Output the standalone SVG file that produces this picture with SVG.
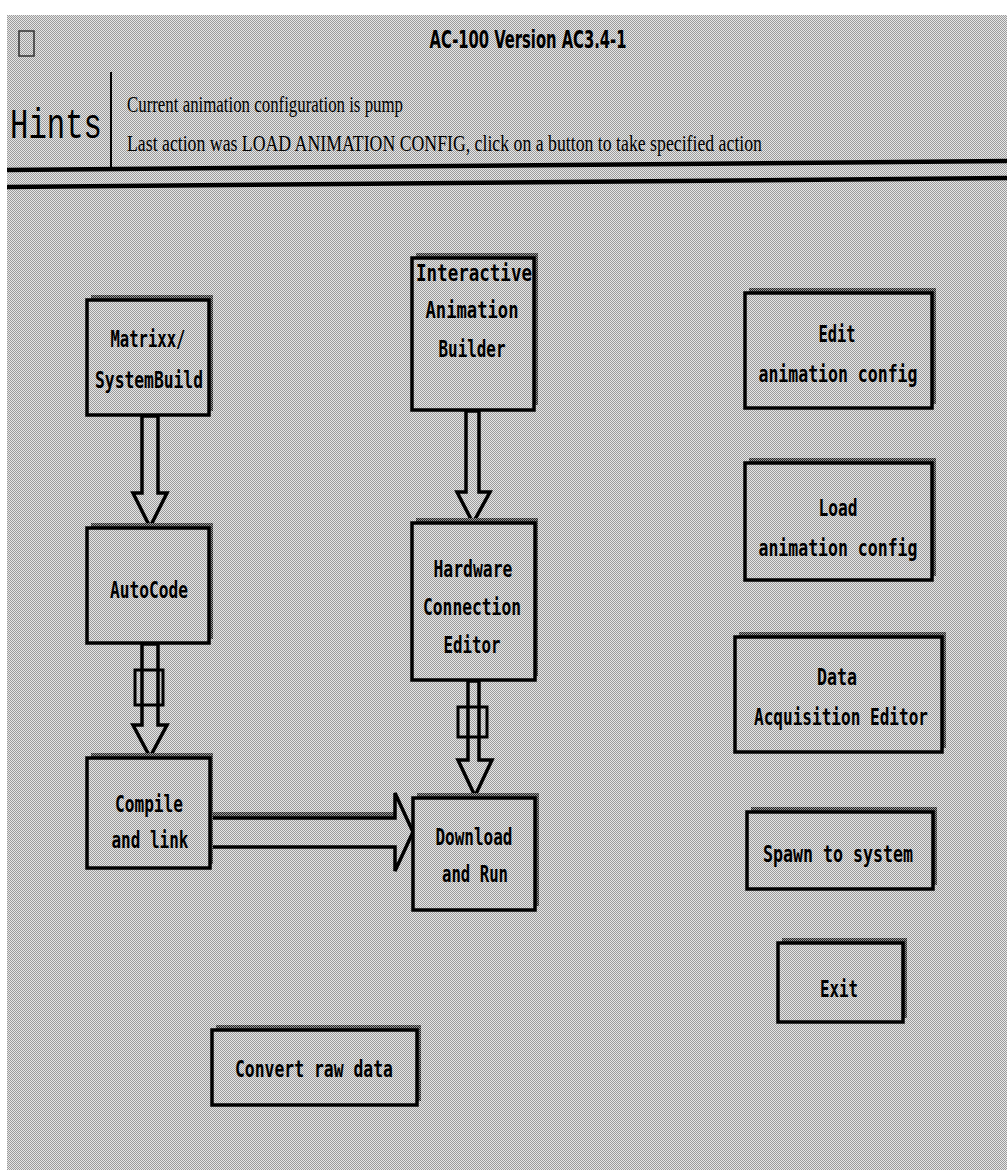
<svg xmlns="http://www.w3.org/2000/svg" width="1007" height="1170" viewBox="0 0 1007 1170">
  <defs>
    <pattern id="bg" patternUnits="userSpaceOnUse" width="2" height="2">
      <rect width="2" height="2" fill="#e6e6e6"/>
      <rect width="1" height="1" fill="#9c9c9c"/>
      <rect x="1" y="1" width="1" height="1" fill="#9c9c9c"/>
    </pattern>
    <pattern id="dk" patternUnits="userSpaceOnUse" width="2" height="2">
      <rect width="2" height="2" fill="#9a9a9a"/>
      <rect width="1" height="1" fill="#222"/>
      <rect x="1" y="1" width="1" height="1" fill="#222"/>
    </pattern>
    <style>
      .box { fill: url(#bg); stroke: #000; stroke-width: 3.5; }
      .shadow { fill: url(#dk); }
      .lbl { font-family: "DejaVu Sans Mono", "Liberation Mono", monospace; font-weight: bold; font-size: 23px; fill: #000; text-anchor: middle; }
      .arrow { fill: url(#bg); stroke: #000; stroke-width: 3.5; stroke-linejoin: miter; }
      .plug { fill: none; stroke: #000; stroke-width: 3; }
      .hint { font-family: "Liberation Serif", serif; font-size: 24px; fill: #000; }
    </style>
  </defs>

  <rect x="0" y="0" width="1007" height="1170" fill="#ffffff"/>
  <rect x="7" y="15" width="1000" height="1155" fill="url(#bg)"/>

  <g id="header">
    <rect x="19" y="31" width="15" height="25" fill="none" stroke="#333" stroke-width="1.5"/>
    <text x="528" y="48" font-family="'DejaVu Sans Condensed', 'DejaVu Sans', sans-serif" font-weight="bold" font-size="25" text-anchor="middle" textLength="197" lengthAdjust="spacingAndGlyphs" fill="#000">AC-100 Version AC3.4-1</text>
    <text x="10" y="138" font-family="'Liberation Mono', monospace" font-size="42" textLength="92" lengthAdjust="spacingAndGlyphs" fill="#000">Hints</text>
    <line x1="111" y1="72" x2="111" y2="168" stroke="#000" stroke-width="2"/>
    <text class="hint" x="127" y="112" textLength="276" lengthAdjust="spacingAndGlyphs">Current animation configuration is pump</text>
    <text class="hint" x="127" y="151" textLength="635" lengthAdjust="spacingAndGlyphs">Last action was LOAD ANIMATION CONFIG, click on a button to take specified action</text>
    <line x1="7" y1="170" x2="1007" y2="161" stroke="#000" stroke-width="4.5"/>
    <line x1="7" y1="187" x2="1007" y2="178" stroke="#000" stroke-width="4.5"/>
  </g>

  <g id="connectors">
    <polygon class="arrow" points="142,416 142,493 133,493 150,527 167,493 158,493 158,416"/>
    <polygon class="arrow" points="142,644 142,725 133,725 150,757 167,725 158,725 158,644"/>
    <rect class="plug" x="135" y="670" width="28" height="35"/>
    <polygon class="arrow" points="466,411 466,492 457,492 473,523 490,492 479,492 479,411"/>
    <polygon class="arrow" points="468,681 468,760 458,760 475,796 492,760 479,760 479,681"/>
    <rect class="plug" x="458" y="707" width="29" height="30"/>
    <rect x="211" y="812" width="184" height="5" fill="url(#dk)"/>
    <polygon class="arrow" points="211,818 395,818 395,793 413,832 395,871 395,847 211,847"/>
  </g>

  <g id="node-matrixx">
    <rect class="shadow" x="91" y="295" width="122" height="116"/>
    <rect class="box" x="87" y="300" width="122" height="115"/>
    <text class="lbl" x="148" y="347" textLength="75" lengthAdjust="spacingAndGlyphs">Matrixx/</text>
    <text class="lbl" x="149" y="388" textLength="108" lengthAdjust="spacingAndGlyphs">SystemBuild</text>
  </g>

  <g id="node-autocode">
    <rect class="shadow" x="91" y="523" width="122" height="116"/>
    <rect class="box" x="87" y="528" width="122" height="115"/>
    <text class="lbl" x="149" y="598" textLength="78" lengthAdjust="spacingAndGlyphs">AutoCode</text>
  </g>

  <g id="node-compile">
    <rect class="shadow" x="91" y="753" width="122" height="111"/>
    <rect class="box" x="87" y="758" width="123" height="110"/>
    <text class="lbl" x="149" y="812" textLength="68" lengthAdjust="spacingAndGlyphs">Compile</text>
    <text class="lbl" x="150" y="848" textLength="77" lengthAdjust="spacingAndGlyphs">and link</text>
  </g>

  <g id="node-interactive">
    <rect class="shadow" x="416" y="253" width="122" height="152"/>
    <rect class="box" x="412" y="258" width="122" height="152"/>
    <text class="lbl" x="474" y="281" textLength="116" lengthAdjust="spacingAndGlyphs">Interactive</text>
    <text class="lbl" x="472" y="318" textLength="93" lengthAdjust="spacingAndGlyphs">Animation</text>
    <text class="lbl" x="472" y="357" textLength="67" lengthAdjust="spacingAndGlyphs">Builder</text>
  </g>

  <g id="node-hardware">
    <rect class="shadow" x="416" y="518" width="122" height="158"/>
    <rect class="box" x="412" y="523" width="123" height="157"/>
    <text class="lbl" x="473" y="577" textLength="79" lengthAdjust="spacingAndGlyphs">Hardware</text>
    <text class="lbl" x="472" y="615" textLength="98" lengthAdjust="spacingAndGlyphs">Connection</text>
    <text class="lbl" x="472" y="653" textLength="57" lengthAdjust="spacingAndGlyphs">Editor</text>
  </g>

  <g id="node-download">
    <rect class="shadow" x="417" y="793" width="122" height="113"/>
    <rect class="box" x="413" y="798" width="122" height="112"/>
    <text class="lbl" x="474" y="845" textLength="77" lengthAdjust="spacingAndGlyphs">Download</text>
    <text class="lbl" x="475" y="882" textLength="66" lengthAdjust="spacingAndGlyphs">and Run</text>
  </g>

  <g id="node-edit">
    <rect class="shadow" x="749" y="288" width="187" height="116"/>
    <rect class="box" x="745" y="293" width="187" height="115"/>
    <text class="lbl" x="837" y="342" textLength="37" lengthAdjust="spacingAndGlyphs">Edit</text>
    <text class="lbl" x="838" y="382" textLength="159" lengthAdjust="spacingAndGlyphs">animation config</text>
  </g>

  <g id="node-load">
    <rect class="shadow" x="749" y="458" width="187" height="118"/>
    <rect class="box" x="745" y="463" width="187" height="117"/>
    <text class="lbl" x="838" y="516" textLength="39" lengthAdjust="spacingAndGlyphs">Load</text>
    <text class="lbl" x="838" y="556" textLength="159" lengthAdjust="spacingAndGlyphs">animation config</text>
  </g>

  <g id="node-data">
    <rect class="shadow" x="739" y="632" width="207" height="116"/>
    <rect class="box" x="735" y="637" width="207" height="115"/>
    <text class="lbl" x="837" y="685" textLength="40" lengthAdjust="spacingAndGlyphs">Data</text>
    <text class="lbl" x="841" y="725" textLength="174" lengthAdjust="spacingAndGlyphs">Acquisition Editor</text>
  </g>

  <g id="node-spawn">
    <rect class="shadow" x="751" y="807" width="186" height="78"/>
    <rect class="box" x="747" y="812" width="186" height="77"/>
    <text class="lbl" x="838" y="862" textLength="150" lengthAdjust="spacingAndGlyphs">Spawn to system</text>
  </g>

  <g id="node-exit">
    <rect class="shadow" x="782" y="938" width="125" height="80"/>
    <rect class="box" x="778" y="943" width="125" height="79"/>
    <text class="lbl" x="839" y="997" textLength="38" lengthAdjust="spacingAndGlyphs">Exit</text>
  </g>

  <g id="node-convert">
    <rect class="shadow" x="216" y="1025" width="205" height="76"/>
    <rect class="box" x="212" y="1030" width="205" height="75"/>
    <text class="lbl" x="314" y="1077" textLength="158" lengthAdjust="spacingAndGlyphs">Convert raw data</text>
  </g>
</svg>
